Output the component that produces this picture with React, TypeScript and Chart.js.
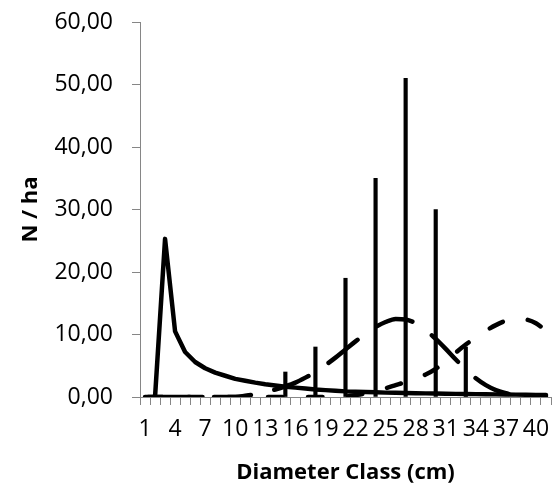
import React, { useEffect, useRef } from "react";
import { Chart, registerables } from "chart.js";

Chart.register(...registerables);

const CATEGORIES = [
  "1", "2", "3", "4", "5", "6", "7", "8", "9", "10",
  "11", "12", "13", "14", "15", "16", "17", "18", "19", "20",
  "21", "22", "23", "24", "25", "26", "27", "28", "29", "30",
  "31", "32", "33", "34", "35", "36", "37", "38", "39", "40", "41",
];

// Observed N/ha (thin vertical bars)
const OBSERVED = [
  null, null, null, null, null, null, null, null, null, null,
  null, null, null, null, 4, null, null, 8, null, null,
  19, null, null, 35, null, null, 51, null, null, 30,
  null, null, 8, null, null, null, null, null, null, null, null,
];

// Solid curve
const SOLID = [
  0, 0, 25.3, 10.5, 7.2, 5.6, 4.6, 3.9, 3.4, 2.9,
  2.6, 2.3, 2.05, 1.85, 1.65, 1.5, 1.35, 1.2, 1.1, 1.0,
  0.9, 0.85, 0.8, 0.75, 0.7, 0.67, 0.64, 0.61, 0.58, 0.55,
  0.52, 0.5, 0.48, 0.46, 0.44, 0.42, 0.4, 0.38, 0.36, 0.34, 0.32,
];

// Long-dash curve (bell around 26)
const LONG_DASH = [
  0, 0, 0, 0, 0, 0, 0, 0, 0, 0,
  0.2, 0.45, 0.8, 1.2, 1.7, 2.3, 3.1, 4.0, 5.1, 6.3,
  7.6, 8.9, 10.1, 11.2, 12.0, 12.5, 12.4, 11.8, 10.7, 9.3,
  7.7, 6.0, 4.4, 3.0, 1.9, 1.1, 0.6, 0.3, 0.1, 0, 0,
];

// Short-dash curve (bell around 38)
const SHORT_DASH = [
  0, 0, 0, 0, 0, 0, 0, 0, 0, 0,
  0, 0, 0, 0, 0, 0, 0, 0, 0, 0,
  0.1, 0.3, 0.6, 1.0, 1.4, 1.9, 2.4, 3.0, 3.6, 4.5,
  5.7, 7.1, 8.4, 9.5, 10.6, 11.5, 12.2, 12.5, 12.4, 11.8, 10.6,
];

const Y_MIN = 0;
const Y_MAX = 60;
const Y_STEP = 10;

const AXIS_GRAY = "#868686";
const FONT = "'Open Sans', 'Noto Sans', sans-serif";

export default function App() {
  const canvasRef = useRef<HTMLCanvasElement | null>(null);

  useEffect(() => {
    const canvas = canvasRef.current;
    if (!canvas) return;
    const chart = new Chart(canvas, {
      type: "bar",
      data: {
        labels: CATEGORIES,
        datasets: [
          {
            type: "line",
            data: SOLID,
            borderColor: "#000",
            borderWidth: 4.5,
            pointRadius: 0,
            tension: 0,
            borderJoinStyle: "round",
            borderCapStyle: "round",
            fill: false,
          } as any,
          {
            type: "line",
            data: LONG_DASH,
            borderColor: "#000",
            borderWidth: 4.5,
            pointRadius: 0,
            tension: 0.4,
            cubicInterpolationMode: "monotone",
            borderDash: [37, 24],
            borderDashOffset: 53,
            borderJoinStyle: "round",
            borderCapStyle: "round",
            fill: false,
          } as any,
          {
            type: "line",
            data: SHORT_DASH,
            borderColor: "#000",
            borderWidth: 4.5,
            pointRadius: 0,
            tension: 0.4,
            cubicInterpolationMode: "monotone",
            borderDash: [14.5, 25.5],
            borderDashOffset: 37,
            borderJoinStyle: "round",
            borderCapStyle: "round",
            fill: false,
          } as any,
          {
            type: "bar",
            data: OBSERVED,
            backgroundColor: "#000",
            borderWidth: 0,
            barThickness: 3.5,
          } as any,
        ],
      },
      options: {
        responsive: false,
        animation: false,
        layout: { padding: { top: 22, right: 3, left: 0, bottom: 0 } },
        plugins: {
          legend: { display: false },
          tooltip: { enabled: false },
          title: { display: false },
        },
        scales: {
          x: {
            type: "category",
            offset: true,
            afterFit: (scale: any) => {
              scale.height = 94;
              scale.paddingLeft = 0;
              scale.paddingRight = 0;
            },
            border: { display: true, color: AXIS_GRAY, width: 1 },
            grid: {
              display: true,
              offset: true,
              drawOnChartArea: false,
              drawTicks: true,
              tickLength: 8,
              color: AXIS_GRAY,
              lineWidth: 1,
            },
            ticks: {
              autoSkip: false,
              maxRotation: 0,
              minRotation: 0,
              padding: 11,
              color: "#000",
              font: { family: FONT, size: 23 },
              callback: (_v: any, index: number) =>
                index % 3 === 0 ? CATEGORIES[index] : "",
            },
            title: {
              display: true,
              text: "Diameter Class (cm)",
              color: "#000",
              font: { family: FONT, size: 22, weight: "bold" },
              padding: { top: 0, bottom: 5 },
            },
          },
          y: {
            min: Y_MIN,
            max: Y_MAX,
            afterFit: (scale: any) => {
              scale.width = 140;
              scale.paddingTop = 0;
              scale.paddingBottom = 0;
            },
            border: { display: true, color: AXIS_GRAY, width: 1 },
            grid: {
              display: true,
              drawOnChartArea: false,
              drawTicks: true,
              tickLength: 8,
              color: AXIS_GRAY,
              lineWidth: 1,
            },
            ticks: {
              stepSize: Y_STEP,
              padding: 19,
              color: "#000",
              font: { family: FONT, size: 23 },
              callback: (v: any) => Number(v).toFixed(2).replace(".", ","),
            },
            title: {
              display: true,
              text: "N / ha",
              color: "#000",
              font: { family: FONT, size: 22, weight: "bold" },
              padding: { top: 18, bottom: 0 },
            },
          },
        },
      },
    });
    return () => chart.destroy();
  }, []);

  return (
    <div
      style={{
        position: "fixed",
        left: 0,
        top: 0,
        width: 554,
        height: 491,
        background: "#fff",
      }}
    >
      <canvas
        ref={canvasRef}
        width={554}
        height={491}
        style={{ display: "block", width: 554, height: 491 }}
      />
    </div>
  );
}
